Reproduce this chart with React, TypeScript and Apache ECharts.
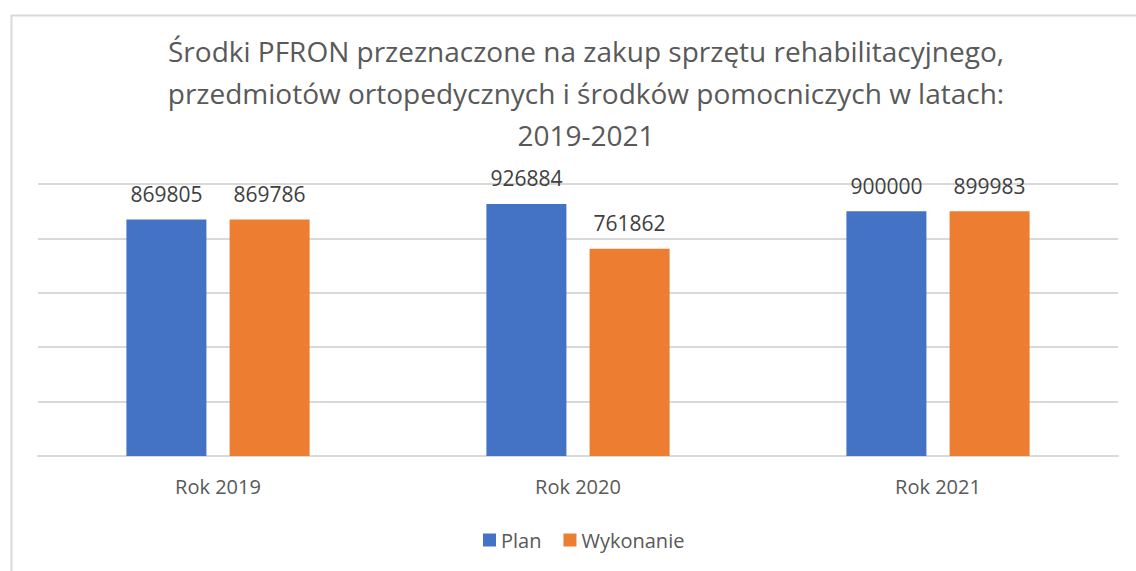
import React, { useEffect, useRef } from "react";
import * as echarts from "echarts";

const categories = ["Rok 2019", "Rok 2020", "Rok 2021"];
const planValues = [869805, 926884, 900000];
const wykonanieValues = [869786, 761862, 899983];
const titleText =
  "Środki PFRON przeznaczone na zakup sprzętu rehabilitacyjnego,\nprzedmiotów ortopedycznych i środków pomocniczych w latach:\n2019-2021";

const FONT = "'Open Sans', 'Noto Sans', sans-serif";

export default function App() {
  const ref = useRef<HTMLDivElement>(null);
  useEffect(() => {
    if (!ref.current) return;
    const chart = echarts.init(ref.current, undefined, { renderer: "svg" });
    chart.setOption({
      animation: false,
      backgroundColor: "#ffffff",
      textStyle: { fontFamily: FONT },
      graphic: [
        {
          type: "rect",
          left: 9,
          top: 13,
          shape: { width: 1200, height: 700 },
          style: { fill: "none", stroke: "#D9D9D9", lineWidth: 2 },
          silent: true,
          z: -1,
        },
      ],
      title: {
        text: titleText,
        left: 581,
        top: 25,
        textAlign: "center",
        textStyle: {
          fontFamily: FONT,
          fontSize: 28,
          fontWeight: "normal",
          color: "#595959",
          lineHeight: 42,
        },
      },
      legend: {
        data: ["Plan", "Wykonanie"],
        left: 478,
        top: 525,
        itemWidth: 13,
        itemHeight: 13,
        itemGap: 22,
        icon: "rect",
        textStyle: { fontFamily: FONT, fontSize: 20, color: "#595959" },
      },
      grid: { left: 38, right: 18, top: 184, bottom: 115 },
      xAxis: {
        type: "category",
        data: categories,
        axisLine: { lineStyle: { color: "#D9D9D9", width: 2 } },
        axisTick: { show: false },
        axisLabel: { color: "#595959", fontSize: 20, margin: 20, fontFamily: FONT },
      },
      yAxis: {
        type: "value",
        min: 0,
        max: 1000000,
        interval: 200000,
        axisLabel: { show: false },
        axisLine: { show: false },
        axisTick: { show: false },
        splitLine: { lineStyle: { color: "#D9D9D9", width: 2 } },
      },
      series: [
        {
          name: "Plan",
          type: "bar",
          data: planValues,
          barWidth: 80,
          barGap: "29%",
          itemStyle: { color: "#4472C4" },
          label: {
            show: true,
            position: "top",
            distance: 15,
            fontSize: 21,
            color: "#404040",
            fontFamily: FONT,
          },
        },
        {
          name: "Wykonanie",
          type: "bar",
          data: wykonanieValues,
          barWidth: 80,
          itemStyle: { color: "#ED7D31" },
          label: {
            show: true,
            position: "top",
            distance: 15,
            fontSize: 21,
            color: "#404040",
            fontFamily: FONT,
          },
        },
      ],
    });
    return () => chart.dispose();
  }, []);
  return (
    <div
      ref={ref}
      style={{ position: "fixed", left: 0, top: 0, width: 1136, height: 571 }}
    />
  );
}
